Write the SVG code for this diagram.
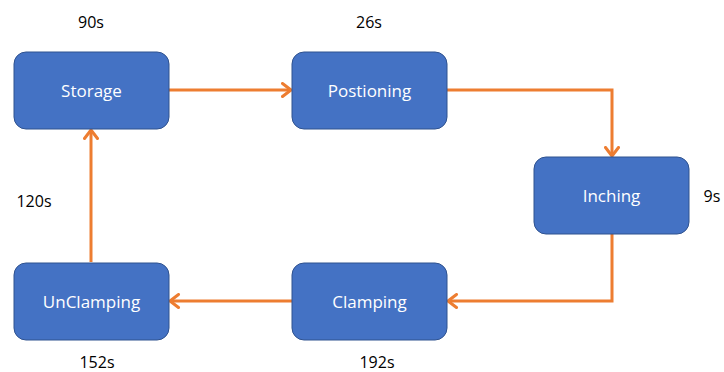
<svg xmlns="http://www.w3.org/2000/svg" width="724" height="372" viewBox="0 0 724 372">
<style>
.node rect{fill:#4472C4;stroke:#2F528F;stroke-width:1}
.node text{fill:#FFFFFF;font-family:"Open Sans","Noto Sans",sans-serif;font-size:17px;text-anchor:middle;dominant-baseline:central}
.lbl{fill:#000000;font-family:"Open Sans","Noto Sans",sans-serif;font-size:16px;text-anchor:middle;dominant-baseline:central}
.conn{fill:none;stroke:#ED7D31;stroke-width:3;marker-end:url(#arr)}
</style>
<defs>
<marker id="arr" viewBox="0 0 12 16" refX="10.5" refY="8" markerWidth="12" markerHeight="16" markerUnits="userSpaceOnUse" orient="auto">
<path d="M2,1.5 L10.5,8 L2,14.5" fill="none" stroke="#ED7D31" stroke-width="3" stroke-linecap="round" stroke-linejoin="round"/>
</marker>
</defs>
<rect width="724" height="372" fill="#FFFFFF"/>
<g id="connectors">
<path class="conn" d="M169,90 L291,90"/>
<path class="conn" d="M447,90 L612,90 L612,156"/>
<path class="conn" d="M612,234 L612,301 L448,301"/>
<path class="conn" d="M292,301 L170,301"/>
<path class="conn" d="M91,262 L91,130"/>
</g>
<g id="storage" class="node"><rect x="14" y="52" width="155" height="77" rx="12"/><text x="91.5" y="90.5">Storage</text></g>
<g id="postioning" class="node"><rect x="292" y="52" width="155" height="77" rx="12"/><text x="369.5" y="90.5">Postioning</text></g>
<g id="inching" class="node"><rect x="534" y="157" width="155" height="77" rx="12"/><text x="611.5" y="195.5">Inching</text></g>
<g id="clamping" class="node"><rect x="292" y="263" width="155" height="77" rx="12"/><text x="369.5" y="301.5">Clamping</text></g>
<g id="unclamping" class="node"><rect x="14" y="263" width="155" height="77" rx="12"/><text x="91.5" y="301.5">UnClamping</text></g>
<g id="labels">
<text class="lbl" x="91" y="22">90s</text>
<text class="lbl" x="369" y="22">26s</text>
<text class="lbl" x="712" y="196">9s</text>
<text class="lbl" x="34" y="201">120s</text>
<text class="lbl" x="97" y="362">152s</text>
<text class="lbl" x="377" y="362">192s</text>
</g>
</svg>
